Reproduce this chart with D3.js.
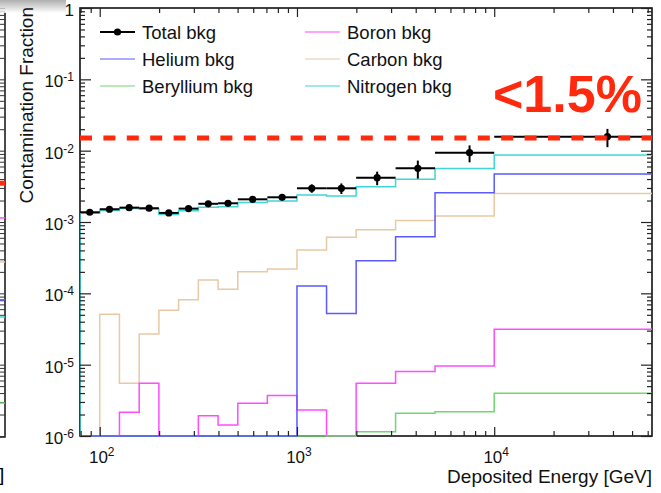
<!DOCTYPE html>
<html>
<head>
<meta charset="utf-8">
<script src="https://cdn.jsdelivr.net/npm/d3@7"></script>
<style>
  body { margin: 0; background: #fff; }
  svg { display: block; font-family: "Liberation Sans", Arial, Helvetica, sans-serif; }
</style>
</head>
<body>
<svg class="chart" width="661" height="493"></svg>
<script>
(function (d3) {
  'use strict';

  // bin edges in GeV (log spaced like the original histograms)
  const binEdges = [79.43, 100, 125.9, 158.5, 199.5, 251.2, 316.2, 398.1, 501.2, 707.9,
                    1000, 1412.5, 1995.3, 3162.3, 5011.9, 10000, 63095.7];

  // total background points
  const totalEnergy = [89, 112, 141, 178, 224, 282, 355, 447, 596, 841, 1189, 1679, 2550, 4100, 7500, 37500];
  const totalValue  = [1.37e-3, 1.51e-3, 1.59e-3, 1.56e-3, 1.34e-3, 1.54e-3, 1.80e-3, 1.83e-3,
                       2.08e-3, 2.22e-3, 2.97e-3, 2.97e-3, 4.18e-3, 5.66e-3, 9.36e-3, 1.57e-2];
  const totalErr    = [0.8e-4, 0.9e-4, 1.0e-4, 1.0e-4, 0.9e-4, 1.0e-4, 1.2e-4, 1.2e-4,
                       1.5e-4, 1.8e-4, 4e-4, 5e-4, 9e-4, 1.6e-3, 2.5e-3, 4.5e-3];

  // per species histograms (0 = empty bin)
  const helium    = [0, 0, 0, 0, 0, 0, 0, 0, 0, 0, 1.27e-4, 5.2e-5, 2.87e-4, 6.2e-4, 2.58e-3, 4.7e-3];
  const beryllium = [0, 0, 0, 0, 0, 0, 0, 0, 0, 0, 0, 0, 1.15e-6, 2.08e-6, 2.19e-6, 3.96e-6];
  const boron     = [0, 0, 2.15e-6, 5.5e-6, 0, 0, 1.92e-6, 1.43e-6, 2.87e-6, 3.7e-6, 2.31e-6, 0,
                     5.5e-6, 8.0e-6, 9.6e-6, 3.13e-5];
  const carbon    = [0, 5.1e-5, 5.5e-6, 2.7e-5, 5.8e-5, 8.1e-5, 1.54e-4, 1.14e-4, 2.0e-4, 2.19e-4,
                     4.05e-4, 6.1e-4, 7.8e-4, 1.05e-3, 1.21e-3, 2.5e-3];
  const nitrogen  = [1.33e-3, 1.45e-3, 1.55e-3, 1.52e-3, 1.27e-3, 1.44e-3, 1.61e-3, 1.64e-3,
                     1.88e-3, 1.97e-3, 2.39e-3, 2.31e-3, 3.12e-3, 3.97e-3, 5.62e-3, 8.7e-3];

  const limitValue = 0.015;
  const limitLabel = '<1.5%';

  const xTickValues = [100, 1000, 10000];
  const xTickExps = ['2', '3', '4'];
  const yTickValues = [1e-6, 1e-5, 1e-4, 1e-3, 1e-2, 1e-1, 1];
  const yTickExps = ['-6', '-5', '-4', '-3', '-2', '-1', ''];

  // bits of the neighbouring panel that peek in on the left
  const sideLevels = [1.14e-3, 2.75e-4, 8.1e-5, 4.66e-5, 2.9e-6];
  const sideLimit = 3.5e-3;

  const legendItems = [
    { name: 'Total bkg', color: '#000', marker: true },
    { name: 'Helium bkg', color: '#5a5aff' },
    { name: 'Beryllium bkg', color: '#72d472' },
    { name: 'Boron bkg', color: '#ff4cff' },
    { name: 'Carbon bkg', color: '#e8c9a3' },
    { name: 'Nitrogen bkg', color: '#3fd6d6' }
  ];

  const series = [
    { values: carbon, color: '#e8c9a3' },
    { values: boron, color: '#ff4cff' },
    { values: beryllium, color: '#72d472' },
    { values: helium, color: '#5a5aff' },
    { values: nitrogen, color: '#3fd6d6' }
  ];

  const red = '#ff2a0d';

  const svg = d3.select('.chart');
  const margin = { top: 8, right: 9, bottom: 57, left: 80 };
  const width = +svg.attr('width');
  const height = +svg.attr('height');
  const xL = margin.left, xR = width - margin.right;
  const yT = margin.top, yB = height - margin.bottom;

  const yMin = 1e-6;
  const xScale = d3.scaleLog().domain([binEdges[0], binEdges[binEdges.length - 1]]).range([xL, xR]);
  const yScale = d3.scaleLog().domain([yMin, 1]).range([yB, yT]);
  const clampY = v => yScale(Math.max(v, yMin));

  // shadow at the top left (slide artefact)
  const defs = svg.append('defs');
  const grad = defs.append('linearGradient').attr('id', 'shade')
    .attr('x1', 0).attr('y1', 0).attr('x2', 0).attr('y2', 1);
  grad.append('stop').attr('offset', '0%').attr('stop-color', '#9a9a9a');
  grad.append('stop').attr('offset', '100%').attr('stop-color', '#fff');
  defs.append('clipPath').attr('id', 'frameClip').append('rect')
    .attr('x', xL).attr('y', yT - 1).attr('width', xR - xL).attr('height', yB - yT + 2);

  // left neighbour panel edge
  const side = svg.append('g');
  side.append('path').attr('d', `M5,${yT + 4}V${yB + 1}H0`)
    .attr('fill', 'none').attr('stroke', '#111').attr('stroke-width', 1.5);
  side.append('g').attr('transform', 'translate(5,0)')
    .call(d3.axisLeft(yScale).tickSize(5).tickFormat(''))
    .call(g => g.select('.domain').remove())
    .selectAll('line').attr('stroke', '#333');
  side.append('line').attr('x1', 0).attr('x2', 5)
    .attr('y1', yScale(sideLimit)).attr('y2', yScale(sideLimit))
    .attr('stroke', red).attr('stroke-width', 5);
  side.selectAll('.lvl').data(sideLevels).enter().append('line')
    .attr('x1', 0).attr('x2', 5)
    .attr('y1', d => yScale(d)).attr('y2', d => yScale(d))
    .attr('stroke', (d, i) => ['#ff4cff', '#e8c9a3', '#5a5aff', '#3fd6d6', '#72d472'][i])
    .attr('stroke-width', 1.5);
  side.append('text').attr('x', -1).attr('y', 481).attr('font-size', 19).text(']');
  svg.append('rect').attr('x', 0).attr('y', 0).attr('width', 66).attr('height', 13)
    .attr('fill', 'url(#shade)').attr('opacity', 0.8);

  // frame
  svg.append('rect').attr('x', xL).attr('y', yT).attr('width', xR - xL).attr('height', yB - yT)
    .attr('fill', 'none').attr('stroke', '#111').attr('stroke-width', 1.6);

  // histograms
  const line = d3.line()
    .x(d => xScale(d[0]))
    .y(d => clampY(d[1]))
    .curve(d3.curveStepAfter);

  const plot = svg.append('g').attr('clip-path', 'url(#frameClip)');
  series.forEach(s => {
    const pts = [[binEdges[0], 0]];
    s.values.forEach((v, i) => pts.push([binEdges[i], v]));
    pts.push([binEdges[binEdges.length - 1], s.values[s.values.length - 1]]);
    plot.append('path').attr('d', line(pts))
      .attr('fill', 'none').attr('stroke', s.color).attr('stroke-width', 1.5);
  });

  // total points with error bars
  const pts = plot.selectAll('.pt').data(totalValue).enter().append('g');
  pts.append('line')
    .attr('x1', (d, i) => xScale(binEdges[i])).attr('x2', (d, i) => xScale(binEdges[i + 1]))
    .attr('y1', d => yScale(d)).attr('y2', d => yScale(d))
    .attr('stroke', '#000').attr('stroke-width', 2);
  pts.append('line')
    .attr('x1', (d, i) => xScale(totalEnergy[i])).attr('x2', (d, i) => xScale(totalEnergy[i]))
    .attr('y1', (d, i) => yScale(d + totalErr[i])).attr('y2', (d, i) => yScale(d - totalErr[i]))
    .attr('stroke', '#000').attr('stroke-width', 2);
  pts.append('circle')
    .attr('cx', (d, i) => xScale(totalEnergy[i])).attr('cy', d => yScale(d))
    .attr('r', 3.6).attr('fill', '#000');

  // limit line
  svg.append('line').attr('x1', xL).attr('x2', xR)
    .attr('y1', yScale(limitValue)).attr('y2', yScale(limitValue))
    .attr('stroke', red).attr('stroke-width', 5).attr('stroke-dasharray', '12,11.4');
  svg.append('text').attr('x', 493).attr('y', 112)
    .attr('font-size', 52).attr('font-weight', 'bold').attr('fill', red)
    .text(limitLabel);

  // ticks on all four sides, pointing inwards
  const xMinor = [];
  [10, 100, 1000, 10000].forEach(dec => {
    for (let k = 2; k <= 9; k++) {
      const v = dec * k;
      if (v > binEdges[0] && v < binEdges[binEdges.length - 1]) xMinor.push(v);
    }
  });
  const yMinor = [];
  yTickValues.slice(0, -1).forEach(dec => {
    for (let k = 2; k <= 9; k++) yMinor.push(dec * k);
  });

  const tickStyle = g => {
    g.select('.domain').remove();
    g.selectAll('line').attr('stroke', '#222').attr('stroke-width', 1.2);
  };
  svg.append('g').attr('transform', `translate(0,${yB})`)
    .call(d3.axisBottom(xScale).tickValues(xTickValues).tickSize(-9).tickFormat('')).call(tickStyle);
  svg.append('g').attr('transform', `translate(0,${yB})`)
    .call(d3.axisBottom(xScale).tickValues(xMinor).tickSize(-5).tickFormat('')).call(tickStyle);
  svg.append('g').attr('transform', `translate(0,${yT})`)
    .call(d3.axisTop(xScale).tickValues(xTickValues).tickSize(-9).tickFormat('')).call(tickStyle);
  svg.append('g').attr('transform', `translate(0,${yT})`)
    .call(d3.axisTop(xScale).tickValues(xMinor).tickSize(-5).tickFormat('')).call(tickStyle);
  svg.append('g').attr('transform', `translate(${xL},0)`)
    .call(d3.axisLeft(yScale).tickValues(yTickValues).tickSize(-11).tickFormat('')).call(tickStyle);
  svg.append('g').attr('transform', `translate(${xL},0)`)
    .call(d3.axisLeft(yScale).tickValues(yMinor).tickSize(-5).tickFormat('')).call(tickStyle);
  svg.append('g').attr('transform', `translate(${xR},0)`)
    .call(d3.axisRight(yScale).tickValues(yTickValues).tickSize(-11).tickFormat('')).call(tickStyle);
  svg.append('g').attr('transform', `translate(${xR},0)`)
    .call(d3.axisRight(yScale).tickValues(yMinor).tickSize(-5).tickFormat('')).call(tickStyle);

  // tick labels
  const xLab = svg.append('g').selectAll('text').data(xTickValues).enter().append('text')
    .attr('x', d => xScale(d) + 2).attr('y', yB + 27)
    .attr('text-anchor', 'middle').attr('font-size', 17).attr('fill', '#111');
  xLab.append('tspan').text('10');
  xLab.append('tspan').attr('dy', -7).attr('font-size', 12).text((d, i) => xTickExps[i]);

  const yLab = svg.append('g').selectAll('text').data(yTickValues).enter().append('text')
    .attr('x', xL - 6).attr('y', d => yScale(d) + 8)
    .attr('text-anchor', 'end').attr('font-size', 17).attr('fill', '#111');
  yLab.append('tspan').text((d, i) => yTickExps[i] === '' ? '1' : '10');
  yLab.append('tspan').attr('dy', -6).attr('font-size', 12).text((d, i) => yTickExps[i]);

  // axis titles
  svg.append('text').attr('transform', `translate(33,${yT - 1}) rotate(-90)`)
    .attr('text-anchor', 'end').attr('font-size', 19).attr('fill', '#111')
    .text('Contamination Fraction');
  svg.append('text').attr('x', xR).attr('y', 483)
    .attr('text-anchor', 'end').attr('font-size', 19).attr('fill', '#111')
    .text('Deposited Energy [GeV]');

  // legend, two columns
  const legend = svg.append('g');
  legendItems.forEach((item, i) => {
    const col = Math.floor(i / 3), row = i % 3;
    const lx = col === 0 ? 100 : 305;
    const ly = 32 + row * 27;
    const g = legend.append('g');
    g.append('line').attr('x1', lx).attr('x2', lx + 35).attr('y1', ly).attr('y2', ly)
      .attr('stroke', item.color).attr('stroke-width', item.marker ? 2 : 1.1);
    if (item.marker) g.append('circle').attr('cx', lx + 17.5).attr('cy', ly).attr('r', 3.6).attr('fill', '#000');
    g.append('text').attr('x', lx + 42).attr('y', ly + 6.5)
      .attr('font-size', 18.5).attr('fill', '#111').text(item.name);
  });

}(d3));
</script>
</body>
</html>
